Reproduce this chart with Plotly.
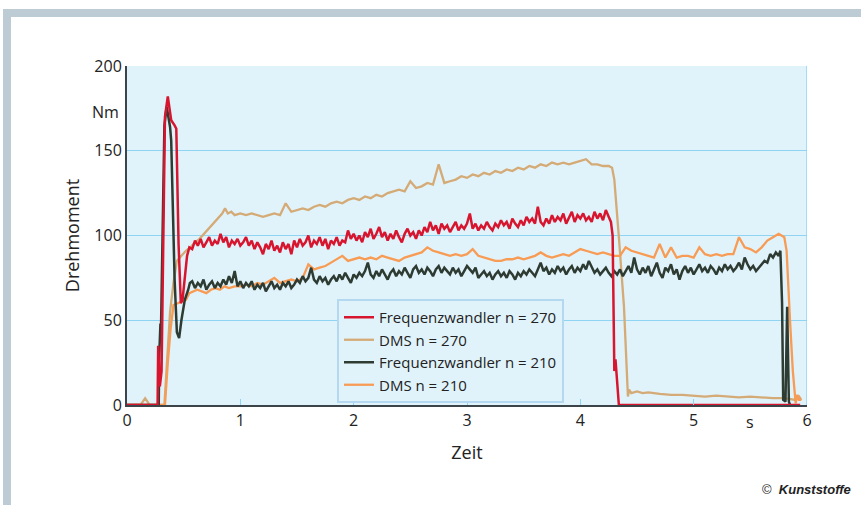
import plotly.graph_objects as go

# ---------------- data ----------------
DT_FAST = 0.025   # sample interval of the noisy segments, s
DT_SLOW = 0.05

# Frequenzwandler n = 270 (red)
fw270_start_t = [0, 0.27, 0.275, 0.29, 0.305, 0.335, 0.36, 0.39, 0.42, 0.435, 0.455, 0.475, 0.49, 0.51, 0.53, 0.55]
fw270_start_v = [0, 0, 35, 11, 20, 170, 182, 168, 165, 163, 95, 60, 62, 75, 88, 93]
fw270_plateau_t0 = 0.575
fw270_plateau_v = [
    92, 97, 94, 98, 93, 96, 99, 94, 97, 95,
    101, 96, 99, 93, 97, 95, 98, 94, 96, 99,
    94, 97, 92, 96, 93, 89, 95, 92, 97, 91,
    94, 90, 96, 92, 95, 89, 97, 93, 98, 94,
    96, 100, 93, 97, 95, 99, 94, 98, 92, 97,
    95, 99, 94, 97, 96, 103, 98, 101, 97, 100,
    96, 102, 99, 104, 98, 101, 105, 99, 102, 97,
    101, 98, 103, 99, 96, 101, 104, 100, 102, 98,
    103, 100, 105, 102, 108, 103, 106, 101, 107, 104,
    106, 102, 105, 108, 103, 106, 104, 107, 113, 104,
    107, 103, 106, 104, 108, 105, 103, 107, 105, 109,
    106, 108, 104, 110, 107, 105, 109, 106, 111, 108,
    110, 107, 117, 108, 106, 110, 107, 112, 108, 111,
    109, 113, 107, 111, 114, 108, 112, 110, 113, 109,
    111, 108, 114, 110, 113, 109, 115, 111,
]
fw270_end_t = [4.27, 4.285, 4.30, 4.31, 4.325, 4.34, 5.94]
fw270_end_v = [108, 100, 20, 27, 15, 0, 0]

# DMS n = 270 (tan)
dms270_start_t = [0, 0.12, 0.16, 0.20, 0.33, 0.36, 0.38, 0.41, 0.44, 0.48, 0.52, 0.56, 0.60, 0.64,
                  0.68, 0.72, 0.76, 0.80, 0.84, 0.865, 0.89, 0.92, 0.95]
dms270_start_v = [0, 0, 4, 0, 0, 30, 55, 72, 85, 88, 91, 93, 96, 98,
                  101, 104, 107, 110, 113, 116, 113, 114, 112]
dms270_plateau_t0 = 1.0
dms270_plateau_v = [
    113, 112, 113, 112, 111, 112, 113, 112, 119, 114,
    115, 116, 115, 117, 118, 117, 119, 120, 119, 121,
    122, 121, 123, 122, 124, 123, 125, 126, 127, 126,
    132, 128, 129, 131, 130, 142, 131, 132, 133, 135,
    134, 136, 135, 137, 136, 138, 137, 139, 138, 140,
    139, 141, 140, 142, 141, 143, 142, 143, 142, 143,
    144, 145, 142, 142, 141, 141,
]
dms270_end_t = [4.28, 4.30, 4.34, 4.385, 4.42, 4.43, 4.45, 4.50, 4.55, 4.60, 4.70, 4.80, 4.90,
                5.00, 5.10, 5.20, 5.30, 5.40, 5.50, 5.60, 5.70, 5.80, 5.85, 5.90, 5.93, 5.95]
dms270_end_v = [140, 133, 99, 58, 5, 9, 7, 8, 7, 7.5, 6.5, 6, 6,
                5.5, 5, 5.5, 5, 4.5, 5, 4.5, 4, 4, 3.5, 3, 5, 3]

# Frequenzwandler n = 210 (dark green-grey)
fw210_start_t = [0, 0.28, 0.285, 0.295, 0.30, 0.33, 0.35, 0.38, 0.39, 0.405, 0.42, 0.44, 0.46,
                 0.48, 0.51, 0.54, 0.555]
fw210_start_v = [0, 0, 30, 48, 45, 165, 176, 164, 156, 113, 74, 43, 39.5,
                 50, 62, 68, 72]
fw210_plateau_t0 = 0.575
fw210_plateau_v = [
    73, 69, 72, 70, 74, 68, 71, 73, 69, 72,
    70, 74, 71, 76, 72, 79, 70, 73, 69, 72,
    70, 73, 68, 71, 69, 72, 67, 70, 73, 69,
    71, 68, 72, 70, 73, 69, 71, 74, 72, 76,
    73, 75, 81, 74, 72, 76, 73, 75, 71, 74,
    76, 73, 77, 74, 78, 75, 72, 77, 75, 78,
    76, 79, 84, 77, 75, 79, 76, 80, 77, 74,
    78, 80, 76, 79, 77, 81, 78, 75, 80, 82,
    78, 80, 77, 81, 79, 76, 80, 82, 78, 81,
    79, 77, 81, 78, 80, 76, 79, 82, 80, 78,
    81, 75, 77, 79, 76, 78, 74, 77, 79, 76,
    78, 75, 79, 77, 74, 78, 76, 79, 77, 80,
    78, 76, 80, 84, 79, 81, 77, 80, 78, 82,
    79, 81, 77, 80, 82, 78, 81, 79, 83, 80,
    85, 81, 78, 80, 77, 79, 81, 78, 76, 79,
    77, 80, 76, 79, 82, 78, 87, 80, 77, 81,
    78, 82, 76, 80, 84, 78, 75, 81, 79, 83,
    77, 80, 74, 79, 82, 78, 81, 77, 80, 83,
    79, 81, 78, 82, 80, 77, 81, 79, 83, 80,
    82, 79, 81, 84, 80, 87, 83, 80, 82, 79,
    81, 83, 85, 84, 89, 87, 90, 88,
]
fw210_end_t = [5.765, 5.78, 5.79, 5.81, 5.825, 5.84, 5.85]
fw210_end_v = [91, 60, 3, 2, 58, 2, 0]

# DMS n = 210 (orange)
dms210_start_t = [0, 0.335, 0.36, 0.385, 0.41, 0.45, 0.49, 0.52, 0.55, 0.58, 0.62, 0.66, 0.70,
                  0.74, 0.78, 0.82, 0.86, 0.90, 0.95]
dms210_start_v = [0, 0, 25, 45, 59, 60, 61, 62, 66, 67, 68, 67, 66,
                  68, 69, 68, 70, 69, 70]
dms210_plateau_t0 = 1.0
dms210_plateau_v = [
    70, 71, 70, 72, 71, 73, 75, 72, 73, 74,
    73, 75, 83, 80, 81, 82, 84, 86, 88, 85,
    86, 87, 86, 87, 86, 88, 87, 86, 85, 87,
    88, 89, 90, 93, 91, 90, 89, 88, 89, 88,
    89, 92, 88, 87, 86, 85, 85, 86, 86, 87,
    86, 87, 88, 90, 88, 87, 88, 89, 88, 90,
    92, 91, 90, 89, 90, 89, 88, 88, 93, 91,
    90, 89, 88, 87, 95, 87, 93, 87, 88, 88,
    87, 93, 89, 88, 89, 88, 89, 89, 99, 93,
    92, 90, 93, 97, 99, 101, 99,
]
dms210_end_t = [5.82, 5.85, 5.875, 5.90, 5.915, 5.93, 5.95]
dms210_end_v = [91, 50, 20, 1, 6, 3, 3]

series_names = ["Frequenzwandler n = 270", "DMS n = 270", "Frequenzwandler n = 210", "DMS n = 210"]
x_tick_vals = [0, 1, 2, 3, 4, 5, 6]
y_tick_vals = [0, 50, 100, 150, 200]


def build(start_t, start_v, t0, dt, plateau_v, end_t, end_v):
    ts = [round(t0 + i * dt, 4) for i in range(len(plateau_v))]
    return start_t + ts + end_t, start_v + plateau_v + end_v


fw270_x, fw270_y = build(fw270_start_t, fw270_start_v, fw270_plateau_t0, DT_FAST, fw270_plateau_v, fw270_end_t, fw270_end_v)
dms270_x, dms270_y = build(dms270_start_t, dms270_start_v, dms270_plateau_t0, DT_SLOW, dms270_plateau_v, dms270_end_t, dms270_end_v)
fw210_x, fw210_y = build(fw210_start_t, fw210_start_v, fw210_plateau_t0, DT_FAST, fw210_plateau_v, fw210_end_t, fw210_end_v)
dms210_x, dms210_y = build(dms210_start_t, dms210_start_v, dms210_plateau_t0, DT_SLOW, dms210_plateau_v, dms210_end_t, dms210_end_v)

RED = "#d8152f"
TAN = "#d4aa76"
DARK = "#2e3b33"
ORANGE = "#f79b55"
GRID = "#8fd4f2"
FONT = "Open Sans"

fig = go.Figure()
# drawing order: tan, orange, dark, red (red on top); legend order via legendrank
fig.add_trace(go.Scatter(x=dms270_x, y=dms270_y, mode="lines", name=series_names[1],
                         line=dict(color=TAN, width=2.3), legendrank=2))
fig.add_trace(go.Scatter(x=dms210_x, y=dms210_y, mode="lines", name=series_names[3],
                         line=dict(color=ORANGE, width=2.3), legendrank=4))
fig.add_trace(go.Scatter(x=fw210_x, y=fw210_y, mode="lines", name=series_names[2],
                         line=dict(color=DARK, width=2.5), legendrank=3))
fig.add_trace(go.Scatter(x=fw270_x, y=fw270_y, mode="lines", name=series_names[0],
                         line=dict(color=RED, width=2.5), legendrank=1))

W, H = 861, 505
L, R, T, B = 127, 54, 66, 100
pw, ph = W - L - R, H - T - B


def px(xp):
    return (xp - L) / pw


def py(yp):
    return (H - B - yp) / ph


FRAME = "#bccbd4"
shapes = [
    # outer frame bands
    dict(type="rect", xref="paper", yref="paper", x0=px(3), x1=px(W + 2), y0=py(17), y1=py(9),
         fillcolor=FRAME, line=dict(width=0), layer="below"),
    dict(type="rect", xref="paper", yref="paper", x0=px(3), x1=px(11), y0=py(H + 2), y1=py(9),
         fillcolor=FRAME, line=dict(width=0), layer="below"),
    # right border of plot
    dict(type="line", xref="x", yref="y", x0=6, x1=6, y0=0, y1=200,
         line=dict(color=GRID, width=1.5), layer="below"),
]

fig.update_layout(
    width=W, height=H,
    margin=dict(l=L, r=R, t=T, b=B),
    paper_bgcolor="white",
    plot_bgcolor="#e1f3fa",
    font=dict(family=FONT, size=15, color="#222222"),
    showlegend=True,
    legend=dict(x=px(337), y=py(299), xanchor="left", yanchor="top",
                bgcolor="#e1f3fa", bordercolor="#b4d8f0", borderwidth=2,
                font=dict(family=FONT, size=15, color="#222222"),
                tracegroupgap=0, itemwidth=30),
    shapes=shapes,
    xaxis=dict(range=[0, 6], tickvals=x_tick_vals, ticktext=[str(v) for v in x_tick_vals],
               showgrid=False, zeroline=False, showline=True, linecolor="#3b4449", linewidth=2,
               ticks="inside", ticklen=6, tickwidth=1, tickcolor=GRID,
               tickfont=dict(size=16), title=dict(text="Zeit", font=dict(size=18), standoff=16)),
    yaxis=dict(range=[0, 200], tickvals=y_tick_vals, ticktext=[str(v) for v in y_tick_vals],
               showgrid=True, gridcolor=GRID, gridwidth=1.2, zeroline=False,
               showline=True, linecolor="#3b4449", linewidth=2, ticks="",
               tickfont=dict(size=16), title=dict(text="Drehmoment", font=dict(size=18), standoff=10)),
    annotations=[
        dict(text="Nm", xref="paper", yref="y", x=px(121), y=173, xanchor="right", yanchor="middle",
             showarrow=False, font=dict(size=16)),
        dict(text="s", xref="x", yref="paper", x=5.5, y=py(422), xanchor="center", yanchor="middle",
             showarrow=False, font=dict(size=16)),
        dict(text="©  <b><i>Kunststoffe</i></b>", xref="paper", yref="paper", x=px(853), y=py(490),
             xanchor="right", yanchor="middle", showarrow=False,
             font=dict(family="Liberation Sans Narrow, Liberation Sans", size=13, color="#222222")),
    ],
)

fig.write_html("out.html", config={"displayModeBar": False},
               post_script="document.body.style.margin='0px';")
